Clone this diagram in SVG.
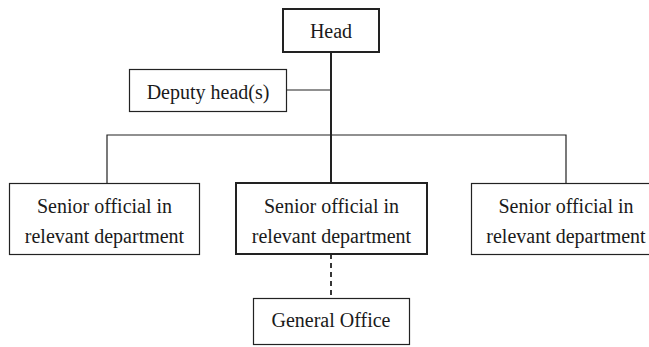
<svg xmlns="http://www.w3.org/2000/svg" width="649" height="347" viewBox="0 0 649 347">
<style>
.box{fill:#fff;stroke:#222;stroke-width:1.2}
.thick{stroke-width:2}
text{font-family:'Liberation Serif','Times New Roman',Times,serif;font-size:20px;fill:#1a1a1a;text-anchor:middle}
.ln{stroke:#222;stroke-width:1.2;fill:none}
</style>
<rect width="649" height="347" fill="#fff"/>
<g id="connectors">
<line class="ln" x1="331" y1="52" x2="331" y2="183" style="stroke-width:2"/>
<line class="ln" x1="287" y1="90" x2="331" y2="90"/>
<polyline class="ln" points="107,183 107,135 566,135 566,183"/>
<line class="ln" x1="331" y1="254" x2="331" y2="298" stroke-dasharray="5,4" style="stroke-width:1.8"/>
</g>
<g id="head">
<rect class="box thick" x="283" y="9" width="96" height="43"/>
<text x="331" y="38" font-family="Liberation Serif, serif">Head</text>
</g>
<g id="deputy">
<rect class="box" x="129.5" y="69.5" width="157" height="42"/>
<text x="208" y="99" font-family="Liberation Serif, serif">Deputy head(s)</text>
</g>
<g id="senior-left">
<rect class="box" x="9.5" y="183.5" width="190" height="71"/>
<text x="104.5" y="213" font-family="Liberation Serif, serif">Senior official in</text>
<text x="104.5" y="243" font-family="Liberation Serif, serif">relevant department</text>
</g>
<g id="senior-middle">
<rect class="box thick" x="236" y="183" width="191" height="71"/>
<text x="331.5" y="213" font-family="Liberation Serif, serif">Senior official in</text>
<text x="331.5" y="243" font-family="Liberation Serif, serif">relevant department</text>
</g>
<g id="senior-right">
<rect class="box" x="471.5" y="183.5" width="190" height="71"/>
<text x="566" y="213" font-family="Liberation Serif, serif">Senior official in</text>
<text x="566" y="243" font-family="Liberation Serif, serif">relevant department</text>
</g>
<g id="general-office">
<rect class="box" x="253.5" y="298.5" width="156" height="46"/>
<text x="331" y="327" font-family="Liberation Serif, serif">General Office</text>
</g>
</svg>
